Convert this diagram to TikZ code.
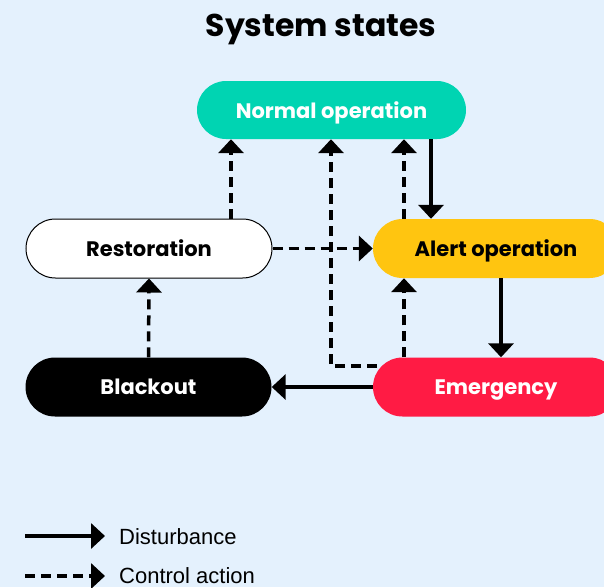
\documentclass[tikz,border=0pt]{standalone}
\usepackage{fontspec}
\newfontfamily\pop{Poppins}
\newfontfamily\legf{Liberation Sans}
\usetikzlibrary{arrows.meta,calc}
\definecolor{bg}{HTML}{E4F1FD}
\definecolor{teal}{HTML}{00D4B2}
\definecolor{amber}{HTML}{FFC510}
\definecolor{redc}{HTML}{FF1B44}
\tikzset{
  state/.style={rectangle, rounded corners=29.5pt, minimum width=246pt, minimum height=59pt, inner sep=0pt, text depth=0pt, font=\pop\bfseries\fontsize{21}{24}\selectfont},
  dist/.style={line width=3.5pt, -{Triangle[width=25pt,length=14pt]}},
  ctrl/.style={dist, dash pattern=on 10pt off 6pt},
}
\begin{document}
\begin{tikzpicture}[x=1pt,y=-1pt]
\useasboundingbox (0,0) rectangle (604,587);
\fill[bg] (0,0) rectangle (604,587);
\clip (0,0) rectangle (604,587);
\node (title) at (321,29) {\pop\bfseries\fontsize{31.5}{34}\selectfont System states};
\node[state, fill=teal, text=white, minimum width=269pt, minimum height=58pt, rounded corners=29pt] (norm) at (331.5,110) {Normal operation};
\node[state, fill=white, draw=black, line width=1pt] (rest) at (149,248.5) {Restoration};
\node[state, fill=amber, text=black] (alert) at (496,248.5) {Alert operation};
\node[state, fill=black, text=white] (black) at (148.5,387) {Blackout};
\node[state, fill=redc, text=white] (emer) at (496,387) {Emergency};
\coordinate (xa) at (231,0);
\coordinate (xb) at (331,0);
\coordinate (xc) at (404,0);
\coordinate (xd) at (431,0);
\coordinate (xe) at (501,0);
\coordinate (bend) at (331,366);
\coordinate (estart) at (377,366);
\draw[ctrl] (rest.north -| xa) -- (norm.south -| xa);
\draw[ctrl] (estart) -- (bend) -- (norm.south -| xb);
\draw[ctrl] (alert.north -| xc) -- (norm.south -| xc);
\draw[dist] (norm.south -| xd) -- (alert.north -| xd);
\draw[ctrl] (rest.east) -- (alert.west);
\draw[ctrl] (emer.north -| xc) -- (alert.south -| xc);
\draw[dist] (alert.south -| xe) -- (emer.north -| xe);
\draw[dist] (emer.west) -- (black.east);
\draw[ctrl] (black.north) -- (rest.south);
\coordinate (l1a) at (25,536);
\coordinate (l1b) at (105,536);
\coordinate (l2a) at (25,576);
\coordinate (l2b) at (105,576);
\draw[dist] (l1a) -- (l1b);
\draw[ctrl] (l2a) -- (l2b);
\node[anchor=west, inner sep=0pt, font=\legf\fontsize{22}{24}\selectfont] (lt1) at (119,537) {Disturbance};
\node[anchor=west, inner sep=0pt, font=\legf\fontsize{22}{24}\selectfont] (lt2) at (119,576) {Control action};
\end{tikzpicture}
\end{document}
